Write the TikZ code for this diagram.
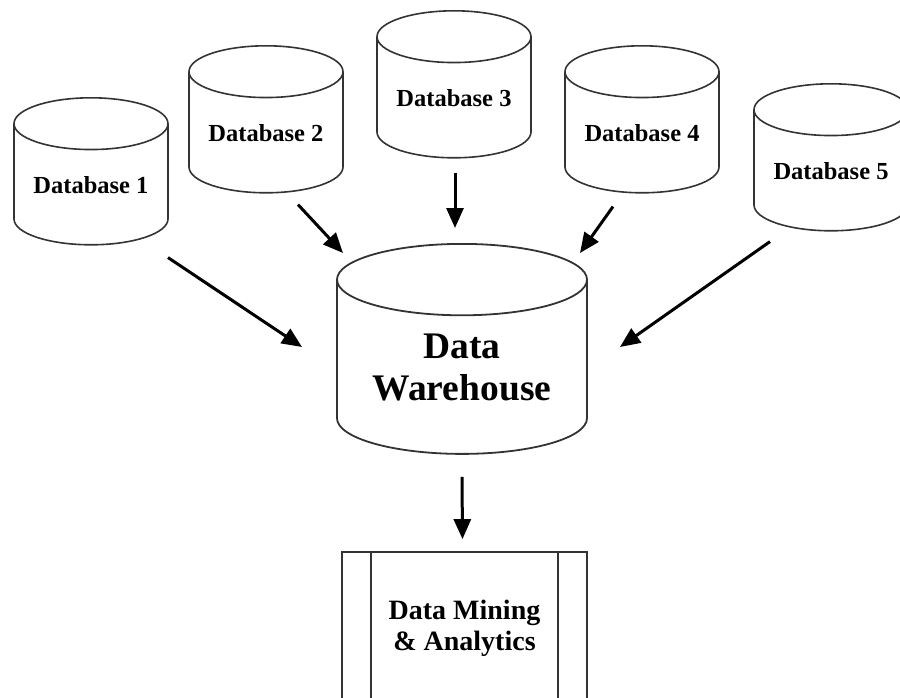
\documentclass[tikz,border=0pt]{standalone}
\usepackage{fontspec}
\setmainfont{Liberation Serif}
\usetikzlibrary{shapes.geometric,arrows.meta}

\tikzset{
	dbase/.style={cylinder, shape border rotate=90, draw=black!80, line width=1.6pt,
		aspect=0.45, minimum width=154pt, minimum height=147pt, inner sep=0pt,
		anchor=north, font=\fontsize{24.5}{28}\selectfont\bfseries},
	whouse/.style={cylinder, shape border rotate=90, draw=black!80, line width=1.8pt,
		aspect=0.40, minimum width=250pt, minimum height=210pt, inner sep=0pt,
		anchor=north, align=center, font=\fontsize{37.5}{42}\selectfont\bfseries},
	process/.style={rectangle, draw=black!80, line width=1.8pt, minimum width=245pt,
		minimum height=152pt, align=center, font=\fontsize{28}{31}\selectfont\bfseries},
	flow/.style={line width=3pt, -{Triangle[length=20pt,width=17pt]}}
}

\begin{document}
\begin{tikzpicture}[x=1pt, y=-1pt]
			%%%%% START %%%%%
			\useasboundingbox (0,0) rectangle (900,698);
			
			% source databases
			\node[dbase] (db1) at (91, 97) {Database 1};
			\node[dbase] (db2) at (266, 45) {Database 2};
			\node[dbase] (db3) at (454, 10) {Database 3};
			\node[dbase] (db4) at (642, 45) {Database 4};
			\node[dbase] (db5) at (831, 83) {Database 5};
			
			% warehouse
			\node[whouse] (dw) at (462, 243) {Data\\Warehouse};
			
			% mining box, two inner bars
			\node[process] (dm) at (464.5, 628) {Data Mining\\\& Analytics};
			\draw[draw=black!80, line width=1.8pt] ([xshift=30pt]dm.north west) -- ([xshift=30pt]dm.south west);
			\draw[draw=black!80, line width=1.8pt] ([xshift=-30pt]dm.north east) -- ([xshift=-30pt]dm.south east);
			
			% loads into the warehouse
			\draw[flow] ([shift={(77,12)}]db1.south) -- ([shift={(-160,104)}]dw.north);
			\draw[flow] ([shift={(32,11)}]db2.south) -- ([shift={(-119,10)}]dw.north);
			\draw[flow] ([shift={(1,14)}]db3.south) -- ([shift={(-7,-15)}]dw.north);
			\draw[flow] ([shift={(-29,13)}]db4.south) -- ([shift={(118,10)}]dw.north);
			\draw[flow] ([shift={(-61,10)}]db5.south) -- ([shift={(158,104)}]dw.north);
			
			\draw[flow] ([shift={(0,22)}]dw.south) -- ([shift={(-2,-12)}]dm.north);
			%%%%% END %%%%%
\end{tikzpicture}
\end{document}
